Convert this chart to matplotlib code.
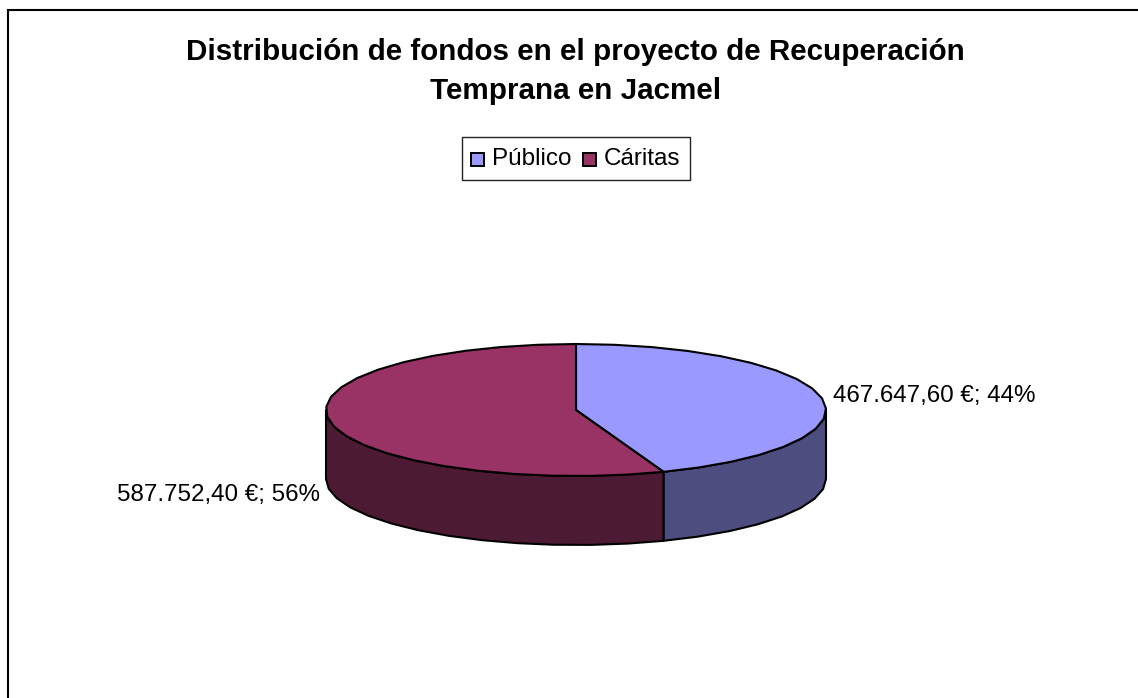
import numpy as np
import matplotlib
matplotlib.use('Agg')
from matplotlib import pyplot as plt
from matplotlib.patches import Polygon, Rectangle

plt.rcParams['font.family'] = ['Liberation Sans', 'DejaVu Sans']

title_lines = ['Distribución de fondos en el proyecto de Recuperación', 'Temprana en Jacmel']
names = ['Público', 'Cáritas']
values = [467647.60, 587752.40]
labels = ['467.647,60 €; 44%', '587.752,40 €; 56%']
top_colors = ['#9999FF', '#993366']
side_colors = ['#4D4D80', '#4D1A33']

# pie geometry in pixels
cx, cy = 576, 410
rx, ry = 250, 66
depth = 69

fig = plt.figure(figsize=(11.38, 6.98), dpi=100)
ax = fig.add_axes([0, 0, 1, 1])
ax.set_xlim(0, 1138)
ax.set_ylim(698, 0)
ax.axis('off')

# chart frame, cropped on the right and at the bottom
ax.plot([8, 8, 1138], [698, 10, 10], color='black', lw=1.5, solid_joinstyle='miter')

# angles clockwise from 12 o'clock
fracs = np.array(values) / sum(values)
edges = np.concatenate([[0], np.cumsum(fracs)]) * 2 * np.pi


def rim(a0, a1, dy=0):
    # coarse steps, the original outline is visibly faceted
    n = int(np.ceil((a1 - a0) / np.radians(9))) + 1
    t = np.linspace(a0, a1, n)
    return np.column_stack([cx + rx * np.sin(t), cy - ry * np.cos(t) + dy])


# side walls: only the front half of the ellipse shows
for i in range(len(values)):
    a0 = max(edges[i], np.pi / 2)
    a1 = min(edges[i + 1], 3 * np.pi / 2)
    if a1 <= a0:
        continue
    upper = rim(a0, a1)
    lower = rim(a0, a1, depth)[::-1]
    ax.add_patch(Polygon(np.vstack([upper, lower]), closed=True, fc=side_colors[i],
                         ec='black', lw=1.5, joinstyle='round'))

# top faces
for i in range(len(values)):
    pts = np.vstack([[cx, cy], rim(edges[i], edges[i + 1])])
    ax.add_patch(Polygon(pts, closed=True, fc=top_colors[i], ec='black', lw=1.5,
                         joinstyle='round'))

# title
for line, y in zip(title_lines, [60, 99]):
    ax.text(575.5, y, line, ha='center', va='baseline', fontsize=21.3, fontweight='bold',
            color='black')

# legend box
ax.add_patch(Rectangle((462, 137), 228.5, 43, fc='white', ec='#222222', lw=1.0))
for i, x0 in enumerate([471.5, 583.5]):
    ax.add_patch(Rectangle((x0, 152.5), 13, 13, fc=top_colors[i], ec='black', lw=1.4))
for i, x0 in enumerate([492, 604]):
    ax.text(x0, 165, names[i], ha='left', va='baseline', fontsize=17.5, color='black')

# data labels
ax.text(833, 402, labels[0], ha='left', va='baseline', fontsize=17.4, color='black')
ax.text(320, 501, labels[1], ha='right', va='baseline', fontsize=17.4, color='black')

fig.savefig('out.png', dpi=100, facecolor='white')
